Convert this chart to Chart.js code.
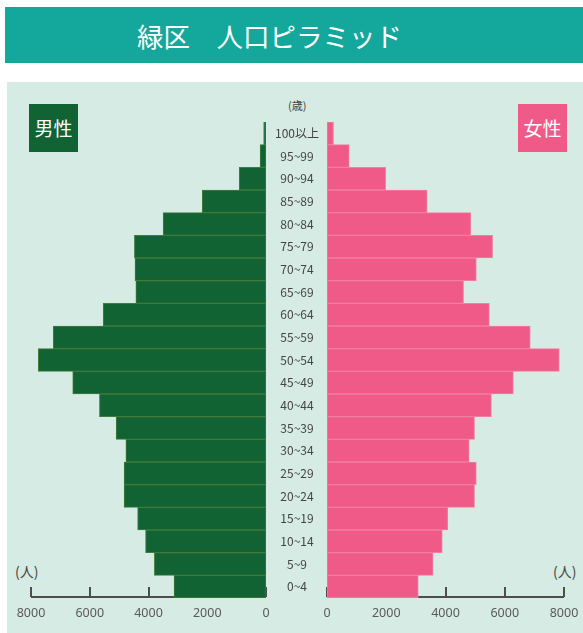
<!DOCTYPE html>
<html><head><meta charset="utf-8">
<script src="https://cdn.jsdelivr.net/npm/chart.js@4/dist/chart.umd.min.js"></script>
<style>
html,body{margin:0;padding:0;background:#fff;width:583px;height:633px;overflow:hidden;font-family:"Noto Sans CJK JP","Noto Sans",sans-serif;}
#title{position:absolute;left:5px;top:7px;width:578px;height:56px;background:#14a89c;}
#title span{position:absolute;left:132px;top:11px;color:#fff;font-size:26.5px;line-height:36px;white-space:nowrap;}
#panel{position:absolute;left:7px;top:82px;width:576px;height:551px;background:#d5ebe3;}
.box{position:absolute;top:104px;width:49px;height:48px;color:#fff;font-size:19px;line-height:48px;text-align:center;}
#mbox{left:29px;background:#126334;}
#fbox{left:518px;background:#f05a89;}
.unit{position:absolute;color:#444;font-size:14px;line-height:16px;}
canvas{position:absolute;top:0;}
</style></head>
<body>
<div id="title"><span>緑区　人口ピラミッド</span></div>
<div id="panel"></div>
<div class="box" id="mbox">男性</div>
<div class="box" id="fbox">女性</div>
<div class="unit" style="left:288px;top:97px;font-size:11px;">(歳)</div>
<div class="unit" style="left:15px;top:563px;">(人)</div>
<div class="unit" style="left:553px;top:563px;">(人)</div>
<canvas id="cm" width="280" height="633" style="left:0;width:280px;height:633px"></canvas>
<canvas id="cf" width="330" height="633" style="left:271px;width:330px;height:633px"></canvas>
<script>
// categories (youngest first; drawn bottom to top)
const ageLabels = ["0~4","5~9","10~14","15~19","20~24","25~29","30~34","35~39","40~44","45~49","50~54","55~59","60~64","65~69","70~74","75~79","80~84","85~89","90~94","95~99","100以上"];
const maleValues   = [3130,3800,4100,4370,4830,4830,4770,5100,5670,6580,7750,7240,5540,4430,4460,4480,3500,2170,910,200,80];
const femaleValues = [3080,3580,3890,4080,4980,5040,4800,4980,5550,6290,7840,6860,5480,4610,5040,5590,4850,3380,1980,750,220];
const tickValues = [0,2000,4000,6000,8000];
const axisMax = 8000;

const axisPlugin = {
  id:'baseAxis',
  beforeDatasetsDraw(chart){
    const {ctx, chartArea, scales:{x}} = chart;
    const y = chartArea.bottom;
    ctx.save();
    ctx.strokeStyle = '#4d4d4d';
    ctx.lineWidth = 2;
    ctx.beginPath();
    ctx.moveTo(x.getPixelForValue(0), y - 1);
    ctx.lineTo(x.getPixelForValue(axisMax), y - 1);
    tickValues.forEach(v => {
      const px = Math.round(x.getPixelForValue(v));
      ctx.moveTo(px, y - 1);
      ctx.lineTo(px, y - 11);
    });
    ctx.stroke();
    ctx.restore();
  }
};

function makeChart(id, values, color, border, reverse, showLabels, padding){
  const yScale = {reverse:true, display:showLabels, offset:true,
           ticks:{color:'#444', crossAlign:'center', padding:8, font:{size:12, family:'"Noto Sans CJK JP",sans-serif'}},
           grid:{display:false, drawTicks:false}, border:{display:false}};
  if (showLabels) yScale.afterFit = s => { s.width = 56; };
  return new Chart(document.getElementById(id), {
    type:'bar',
    data:{labels:ageLabels, datasets:[{data:values, backgroundColor:color, borderColor:border, borderWidth:1, borderSkipped:false, barPercentage:1, categoryPercentage:1}]},
    options:{
      indexAxis:'y', responsive:false, animation:false, devicePixelRatio:1,
      plugins:{legend:{display:false}, tooltip:{enabled:false}},
      layout:{padding:padding},
      scales:{
        x:{reverse:reverse, min:0, max:axisMax,
           afterBuildTicks: s => { s.ticks = tickValues.map(v => ({value:v})); },
           ticks:{color:'#5a5a5a', font:{size:12.5, family:'"Noto Sans","DejaVu Sans",sans-serif'}, padding:8, maxRotation:0, autoSkip:false,
                  callback: v => String(v)},
           grid:{display:false, drawTicks:false}, border:{display:false},
           afterFit: s => { s.height = 35; }},
        y:yScale
      }
    },
    plugins:[axisPlugin]
  });
}
makeChart('cm', maleValues, '#126334', '#3f7b3b', true, false, {left:31, right:14, top:122, bottom:0});
makeChart('cf', femaleValues, '#f05a89', '#f27fa2', false, true, {left:0, right:37, top:122, bottom:0});
</script>
</body></html>
